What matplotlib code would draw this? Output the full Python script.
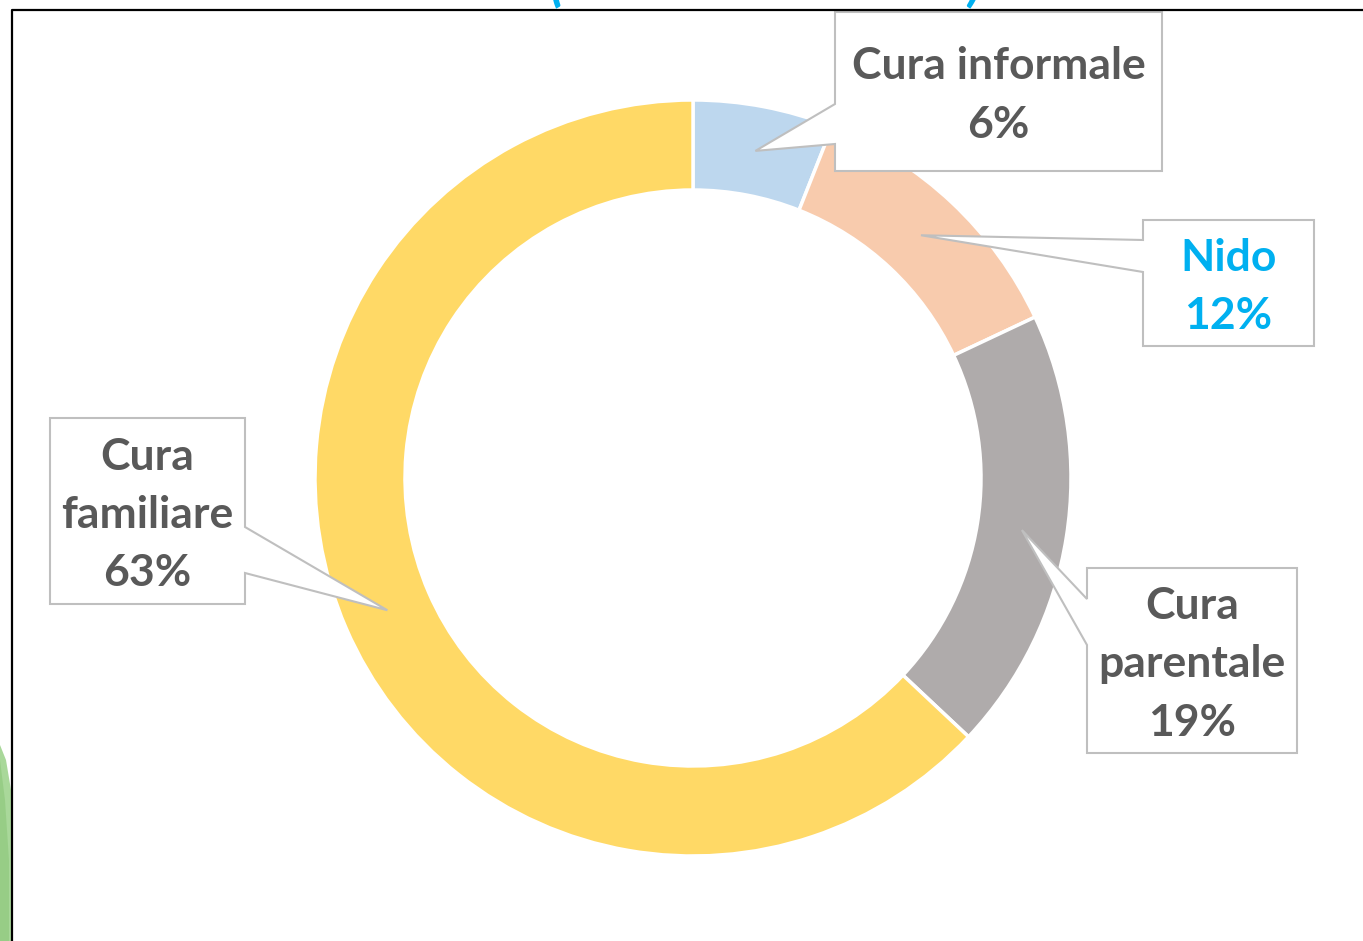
import numpy as np
import matplotlib
matplotlib.use("Agg")
import matplotlib.pyplot as plt
from matplotlib.patches import Polygon

# dati
categorie = ["Cura informale", "Nido", "Cura parentale", "Cura familiare"]
etichette = ["Cura informale", "Nido", "Cura\nparentale", "Cura\nfamiliare"]
valori = [6, 12, 19, 63]
colori = ["#BDD7EE", "#F8CBAD", "#AFABAB", "#FFD966"]

W, H = 1363, 941
fig = plt.figure(figsize=(W / 100, H / 100), dpi=100)
ax = fig.add_axes([0, 0, 1, 1])


def py(y):
    # y in pixel dall'alto -> coordinate dati
    return H - y


cx, cy, R, larg = 693, py(478), 378, 90

wedges, _ = ax.pie(valori, colors=colori, startangle=90, counterclock=False,
                   radius=R, center=(cx, cy),
                   wedgeprops=dict(width=larg, edgecolor="white", linewidth=2.5),
                   frame=True)
ax.set_xlim(0, W)
ax.set_ylim(0, H)
ax.set_aspect("equal")
ax.axis("off")

# riquadri delle etichette (x0, y0, x1, y1) in pixel, lato della punta, attacco della punta
box = [
    (835, 12, 1162, 171, "left", (104, 144)),
    (1143, 220, 1314, 346, "left", (240, 272)),
    (1087, 568, 1297, 753, "left", (599, 645)),
    (50, 418, 245, 604, "right", (527, 573)),
]
col_testo = ["#595959", "#00B0F0", "#595959", "#595959"]

for w, v, lab, b, ct in zip(wedges, valori, etichette, box, col_testo):
    x0, y0, x1, y1, lato, (a1, a2) = b
    ang = np.deg2rad((w.theta1 + w.theta2) / 2)
    rm = R - larg / 2
    tx, ty = cx + rm * np.cos(ang), cy + rm * np.sin(ang)
    if lato == "left":
        pts = [(x0, py(y0)), (x1, py(y0)), (x1, py(y1)), (x0, py(y1)),
               (x0, py(a2)), (tx, ty), (x0, py(a1))]
    else:
        pts = [(x0, py(y0)), (x1, py(y0)), (x1, py(a1)), (tx, ty),
               (x1, py(a2)), (x1, py(y1)), (x0, py(y1))]
    ax.add_patch(Polygon(pts, closed=True, facecolor="white", edgecolor="#BFBFBF",
                         linewidth=1.5, zorder=5))
    ax.text((x0 + x1) / 2, py((y0 + y1) / 2 + 4), f"{lab}\n{v}%", ha="center", va="center",
            fontsize=32, fontweight="bold", family="Lato", color=ct,
            linespacing=1.55, zorder=6)

# cornice
ax.plot([12, 12, W + 5], [-5, py(10), py(10)], color="black", lw=1.6,
        clip_on=False, zorder=7)

# macchia verde a sinistra (immagine di sfondo tagliata)
ax.add_patch(Polygon([(0, py(745)), (6, py(760)), (11, py(790)), (11, 0), (0, 0)],
                     closed=True, facecolor="#A9D89A", edgecolor="none", zorder=1))
ax.add_patch(Polygon([(0, py(760)), (5, py(800)), (9, py(860)), (9, 0), (0, 0)],
                     closed=True, facecolor="#8CC77A", edgecolor="none", alpha=0.6, zorder=1))

# titolo tagliato in alto
for xt, s in [(556, "("), (975, ")")]:
    fig.text(xt / W, 1 - 9 / H, s, ha="center", va="bottom", fontsize=40,
             fontweight="bold", color="#00B0F0", family="Lato", style="italic")

fig.savefig("out.png", dpi=100)
